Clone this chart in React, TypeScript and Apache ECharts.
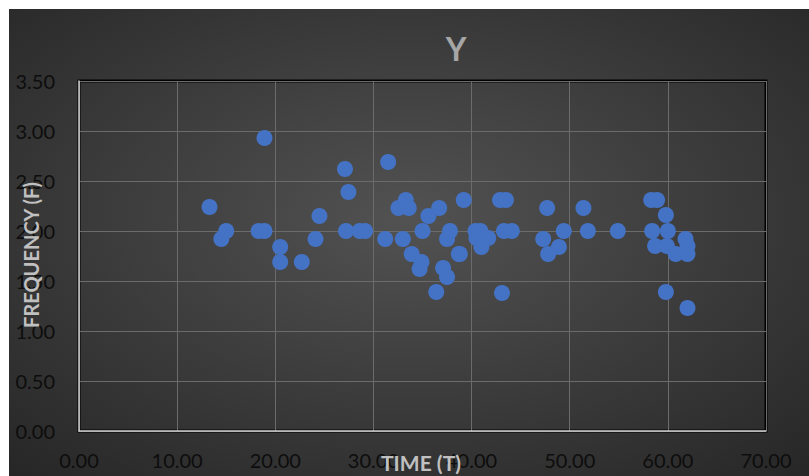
import React, { useEffect, useRef } from "react";
import * as echarts from "echarts";

const timeValues: number[] = [
  13.3, 14.5, 15.0, 18.3, 18.9, 18.9, 20.5, 20.5, 22.7, 24.1, 24.5,
  27.1, 27.45, 27.2, 28.6, 29.15, 31.2, 31.5, 32.55, 33.0, 33.3, 33.6,
  33.9, 34.7, 34.9, 35.0, 35.6, 36.4, 36.7, 37.1, 37.5, 37.5, 37.8,
  38.7, 38.8, 39.2, 40.4, 40.9, 40.5, 41.7, 41.0, 42.9, 43.5, 43.1,
  43.3, 44.1, 47.3, 47.7, 47.8, 48.9, 49.4, 51.4, 51.85, 54.9,
  58.3, 58.9, 59.8, 58.4, 60.0, 58.7, 59.9, 60.8, 61.8, 62.0, 62.0,
  59.8, 62.0,
];
const frequencyValues: number[] = [
  2.24, 1.92, 2.0, 2.0, 2.0, 2.93, 1.84, 1.69, 1.69, 1.92, 2.15,
  2.62, 2.39, 2.0, 2.0, 2.0, 1.92, 2.69, 2.23, 1.92, 2.31, 2.23,
  1.77, 1.62, 1.69, 2.0, 2.15, 1.39, 2.23, 1.63, 1.54, 1.92, 2.0,
  1.77, 1.77, 2.31, 2.0, 2.0, 1.93, 1.93, 1.84, 2.31, 2.31, 1.38,
  2.0, 2.0, 1.92, 2.23, 1.77, 1.84, 2.0, 2.23, 2.0, 2.0,
  2.31, 2.31, 2.16, 2.0, 2.0, 1.85, 1.85, 1.77, 1.92, 1.85, 1.77,
  1.39, 1.23,
];

const chartTitle = "Y";
const xAxisTitle = "TIME (T)";
const yAxisTitle = "FREQUENCY (F)";

export default function App() {
  const ref = useRef<HTMLDivElement>(null);
  useEffect(() => {
    if (!ref.current) return;
    const chart = echarts.init(ref.current, undefined, { renderer: "svg" });
    const data = timeValues.map((t, i) => [t, frequencyValues[i]]);
    const labelStyle = {
      color: "#0d0d0d",
      fontFamily: "Lato, 'Open Sans', sans-serif",
      fontSize: 20,
    };
    chart.setOption({
      animation: false,
      backgroundColor: {
        type: "radial",
        x: 0.5,
        y: 0.45,
        r: 0.75,
        colorStops: [
          { offset: 0, color: "#525252" },
          { offset: 1, color: "#262626" },
        ],
      },
      title: {
        text: chartTitle,
        left: 442,
        top: 18,
        textAlign: "center",
        textStyle: {
          color: "#a6a6a6",
          fontSize: 32,
          fontWeight: "bold",
          fontFamily: "Lato, 'Open Sans', sans-serif",
        },
      },
      grid: {
        left: 70,
        top: 72,
        width: 687,
        height: 350,
        show: true,
        borderColor: "#000000",
        borderWidth: 3,
        backgroundColor: "transparent",
      },
      xAxis: {
        type: "value",
        min: 0,
        max: 70,
        interval: 10,
        axisLine: { show: true, onZero: false, lineStyle: { color: "#d0d0d0", width: 1.5 } },
        axisTick: { show: false },
        splitLine: { show: true, lineStyle: { color: "#6b6b6b", width: 1 } },
        axisLabel: { ...labelStyle, margin: 19, formatter: (v: number) => v.toFixed(2) },
      },
      yAxis: {
        type: "value",
        min: 0,
        max: 3.5,
        interval: 0.5,
        axisLine: { show: true, onZero: false, lineStyle: { color: "#d0d0d0", width: 1.5 } },
        axisTick: { show: false },
        splitLine: { show: true, lineStyle: { color: "#6b6b6b", width: 1 } },
        axisLabel: { ...labelStyle, margin: 24, formatter: (v: number) => v.toFixed(2) },
      },
      graphic: [
        {
          type: "text",
          x: 412,
          y: 453,
          z: 100,
          style: {
            text: xAxisTitle,
            fill: "#c0c0c0",
            fontSize: 21,
            fontWeight: "bold",
            fontFamily: "Lato, 'Open Sans', sans-serif",
            align: "center",
            verticalAlign: "middle",
          },
        },
        {
          type: "text",
          x: 22,
          y: 246,
          rotation: Math.PI / 2,
          z: 100,
          style: {
            text: yAxisTitle,
            fill: "#c0c0c0",
            fontSize: 20,
            fontWeight: "bold",
            fontFamily: "Lato, 'Open Sans', sans-serif",
            align: "center",
            verticalAlign: "middle",
          },
        },
      ],
      series: [
        {
          type: "scatter",
          data,
          symbol: "circle",
          symbolSize: 16,
          itemStyle: { color: "#4472c4", opacity: 1 },
        },
      ],
    });
    return () => chart.dispose();
  }, []);
  return (
    <div
      ref={ref}
      style={{ position: "absolute", left: 9, top: 9, width: 800, height: 467 }}
    />
  );
}
